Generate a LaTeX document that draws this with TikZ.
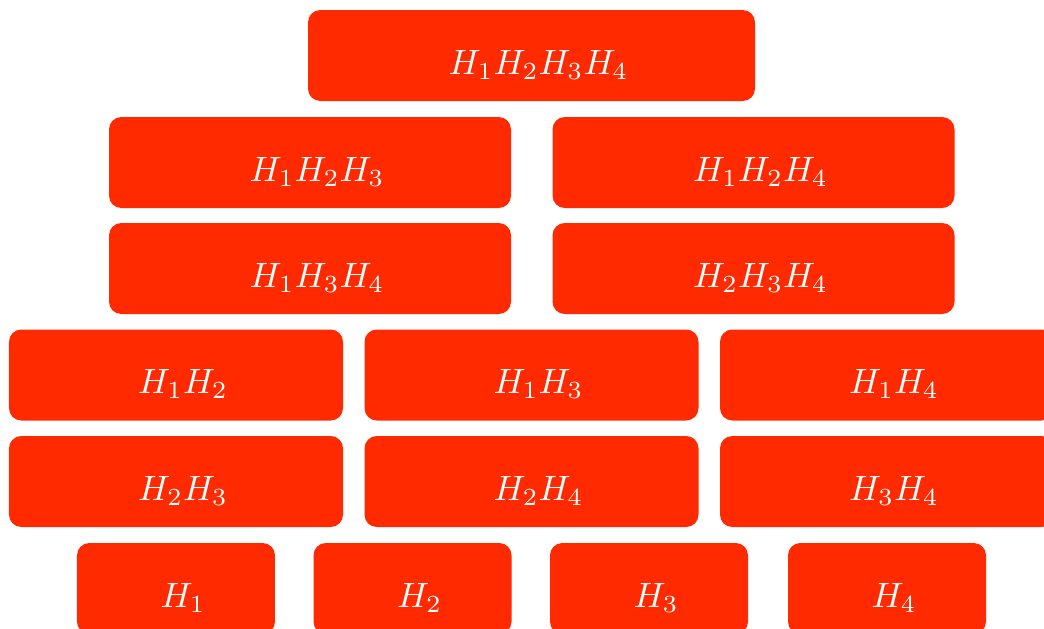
\documentclass[tikz,border=0pt]{standalone}
\definecolor{hred}{RGB}{255,42,0}
\tikzset{
  hbox/.style={fill=hred, rounded corners=3.5pt, text=white, minimum height=0.91cm,
    inner sep=0pt, text height=12.1pt, text depth=1.5pt,
    execute at begin node=\hspace*{4pt}},
}
\begin{document}
\begin{tikzpicture}
  \useasboundingbox (0,0) rectangle (10.44,6.28);
  \node[hbox, minimum width=4.47cm] (h1234) at (5.315,5.725) {$H_1H_2H_3H_4$};
  \foreach \x/\y/\n/\t in {3.10/4.655/h123/H_1H_2H_3, 7.535/4.655/h124/H_1H_2H_4,
                           3.10/3.595/h134/H_1H_3H_4, 7.535/3.595/h234/H_2H_3H_4}
    \node[hbox, minimum width=4.02cm] (\n) at (\x,\y) {$\t$};
  \foreach \x/\y/\n/\t in {1.76/2.53/h12/H_1H_2, 5.315/2.53/h13/H_1H_3, 8.87/2.53/h14/H_1H_4,
                           1.76/1.465/h23/H_2H_3, 5.315/1.465/h24/H_2H_4, 8.87/1.465/h34/H_3H_4}
    \node[hbox, minimum width=3.34cm] (\n) at (\x,\y) {$\t$};
  \foreach \x/\n in {1.76/1, 4.125/2, 6.49/3, 8.87/4}
    \node[hbox, minimum width=1.98cm] (h\n) at (\x,0.395) {$H_\n$};
\end{tikzpicture}
\end{document}
